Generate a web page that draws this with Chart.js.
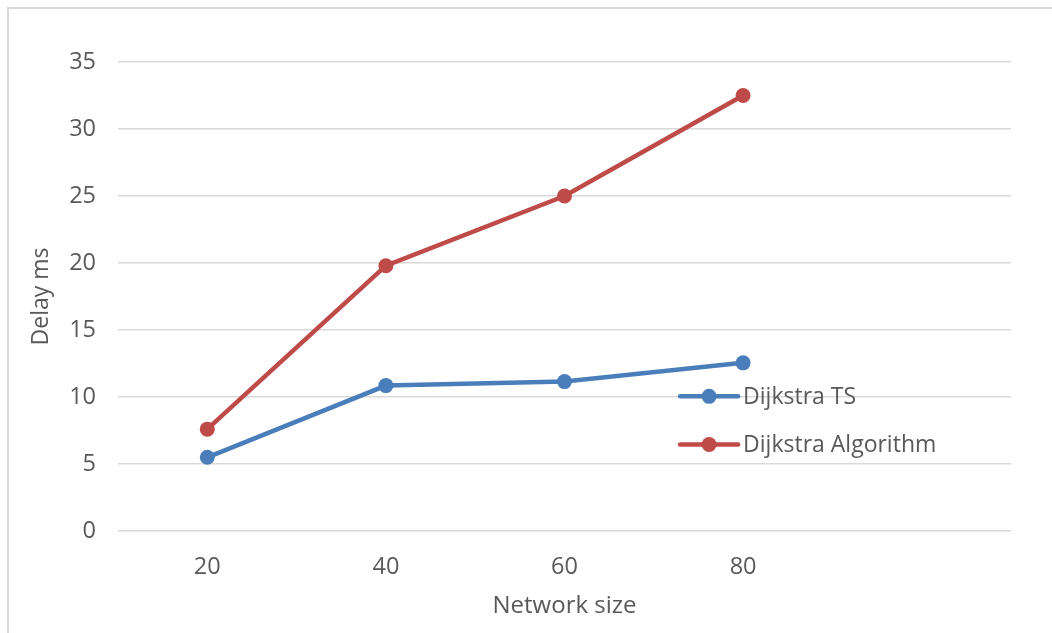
<!DOCTYPE html>
<html>
<head>
<meta charset="utf-8">
<script src="https://cdn.jsdelivr.net/npm/chart.js@4/dist/chart.umd.min.js"></script>
<style>
  html, body { margin: 0; padding: 0; background: #ffffff; }
  #wrap { width: 1052px; height: 633px; position: relative; }
</style>
</head>
<body>
<div id="wrap"><canvas id="c" width="1052" height="633"></canvas></div>
<script>
// Network sizes (last slot left empty so the legend sits inside the plot)
const networkSizes = ['20', '40', '60', '80', ''];
const dijkstraTS = [5.5, 10.85, 11.15, 12.55, null];
const dijkstraAlgorithm = [7.6, 19.8, 25.0, 32.5, null];
const delayTicks = [0, 5, 10, 15, 20, 25, 30, 35];

const FONT = '"Open Sans", "Noto Sans", sans-serif';
const TEXT = '#595959';
const GRID = '#d9d9d9';
const BLUE = '#4a7ebb';
const RED = '#be4b48';

// Outer frame of the chart object
const framePlugin = {
  id: 'frame',
  beforeDraw(chart) {
    const ctx = chart.ctx;
    ctx.save();
    ctx.fillStyle = '#ffffff';
    ctx.fillRect(0, 0, chart.width, chart.height);
    ctx.strokeStyle = GRID;
    ctx.lineWidth = 2;
    ctx.strokeRect(8, 8, chart.width + 20, chart.height + 20);
    ctx.restore();
  }
};

// Legend drawn inside the plot, line-with-marker style
const innerLegend = {
  id: 'innerLegend',
  afterDatasetsDraw(chart) {
    const ctx = chart.ctx;
    const x = chart.scales.x;
    const y = chart.scales.y;
    const left = x.getPixelForValue(3) - 63;
    const rows = [
      { ds: chart.data.datasets[0], cy: y.getPixelForValue(10.05) },
      { ds: chart.data.datasets[1], cy: y.getPixelForValue(6.45) }
    ];
    ctx.save();
    rows.forEach(r => {
      ctx.strokeStyle = r.ds.borderColor;
      ctx.lineWidth = 4.5;
      ctx.lineCap = 'round';
      ctx.beginPath();
      ctx.moveTo(left, r.cy);
      ctx.lineTo(left + 58, r.cy);
      ctx.stroke();
      ctx.fillStyle = r.ds.borderColor;
      ctx.beginPath();
      ctx.arc(left + 29, r.cy, 7.5, 0, Math.PI * 2);
      ctx.fill();
      ctx.fillStyle = TEXT;
      ctx.font = '23px ' + FONT;
      ctx.textBaseline = 'middle';
      ctx.textAlign = 'left';
      ctx.fillText(r.ds.label, left + 63, r.cy + 1);
    });
    ctx.restore();
  }
};

new Chart(document.getElementById('c'), {
  type: 'line',
  data: {
    labels: networkSizes,
    datasets: [
      {
        label: 'Dijkstra TS',
        data: dijkstraTS,
        borderColor: BLUE,
        backgroundColor: BLUE,
        borderWidth: 4.5,
        pointRadius: 7.5,
        pointHoverRadius: 7.5,
        pointBorderWidth: 0,
        tension: 0
      },
      {
        label: 'Dijkstra Algorithm',
        data: dijkstraAlgorithm,
        borderColor: RED,
        backgroundColor: RED,
        borderWidth: 4.5,
        pointRadius: 7.5,
        pointHoverRadius: 7.5,
        pointBorderWidth: 0,
        tension: 0
      }
    ]
  },
  options: {
    responsive: false,
    animation: false,
    layout: { padding: { left: 0, top: 62, right: 41, bottom: 0 } },
    plugins: {
      legend: { display: false },
      tooltip: { enabled: false }
    },
    scales: {
      x: {
        type: 'category',
        offset: true,
        grid: { display: false, drawTicks: false },
        border: { display: false },
        ticks: { color: TEXT, font: { family: FONT, size: 23.5 }, padding: 22 },
        title: {
          display: true, text: 'Network size', color: TEXT,
          font: { family: FONT, size: 24 }, padding: { top: 0, bottom: 12 }
        },
        afterFit(s) { s.height = 102; }
      },
      y: {
        min: 0,
        max: 35,
        afterBuildTicks(s) { s.ticks = delayTicks.map(v => ({ value: v })); },
        grid: { color: GRID, lineWidth: 1.5, drawTicks: false },
        border: { display: false },
        ticks: { color: TEXT, font: { family: FONT, size: 23.5 }, padding: 22 },
        title: {
          display: true, text: 'Delay ms', color: TEXT,
          font: { family: FONT, size: 23 }, padding: { top: 28, bottom: 0 }
        },
        afterFit(s) { s.width = 118; }
      }
    }
  },
  plugins: [framePlugin, innerLegend]
});
</script>
</body>
</html>
